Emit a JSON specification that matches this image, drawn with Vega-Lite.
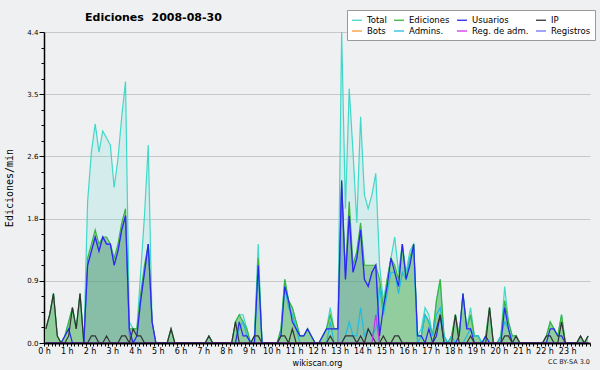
{
"$schema":"https://vega.github.io/schema/vega-lite/v6.json",
"width":546,"height":311,
"autosize":{"type":"none"},
"padding":{"left":44,"top":32,"right":10,"bottom":27},
"background":"#eff0f2",
"config":{"view":{"stroke":null},"font":"DejaVu Sans",
 "legend":{"orient":"none","legendX":303,"legendY":-22,"columns":4,"title":null,"symbolType":"stroke","symbolSize":100,"symbolStrokeWidth":1.3,"symbolOpacity":1,"labelOpacity":1,"labelFontSize":8.5,"labelFont":"DejaVu Sans","labelColor":"#000000","fillColor":"#ffffff","strokeColor":"#999999","padding":4,"gridAlign":"each","columnPadding":4,"rowPadding":0,"labelOffset":4,"zindex":5}},
"title":{"text":"Ediciones \u00a02008-08-30","anchor":"start","frame":"group","dx":41,"dy":13,"offset":0,"fontSize":11,"fontWeight":"bold","font":"DejaVu Sans","color":"#000000"},
"data":{"values":[
{"t":5,"tot":0.2,"edi":0.2,"usu":0,"ip":0.2,"adm":0,"rad":0,"reg":0},
{"t":15,"tot":0.4,"edi":0.4,"usu":0,"ip":0.4,"adm":0,"rad":0,"reg":0},
{"t":25,"tot":0.7,"edi":0.7,"usu":0,"ip":0.7,"adm":0,"rad":0,"reg":0},
{"t":35,"tot":0.1,"edi":0.1,"usu":0,"ip":0.1,"adm":0,"rad":0,"reg":0},
{"t":45,"tot":0,"edi":0,"usu":0,"ip":0,"adm":0,"rad":0,"reg":0},
{"t":55,"tot":0.1,"edi":0.1,"usu":0.1,"ip":0,"adm":0,"rad":0,"reg":0},
{"t":65,"tot":0.3,"edi":0.3,"usu":0.2,"ip":0.1,"adm":0,"rad":0,"reg":0},
{"t":75,"tot":0.5,"edi":0.5,"usu":0,"ip":0.5,"adm":0,"rad":0,"reg":0},
{"t":85,"tot":0.2,"edi":0.2,"usu":0,"ip":0.2,"adm":0,"rad":0,"reg":0},
{"t":95,"tot":0.7,"edi":0.7,"usu":0,"ip":0.7,"adm":0,"rad":0,"reg":0},
{"t":105,"tot":0,"edi":0,"usu":0,"ip":0,"adm":0,"rad":0,"reg":0},
{"t":115,"tot":2.0,"edi":1.2,"usu":1.1,"ip":0,"adm":0,"rad":0,"reg":1.1},
{"t":125,"tot":2.7,"edi":1.4,"usu":1.3,"ip":0.1,"adm":0,"rad":0,"reg":1.3},
{"t":135,"tot":3.1,"edi":1.6,"usu":1.5,"ip":0.1,"adm":0,"rad":0,"reg":1.5},
{"t":145,"tot":2.7,"edi":1.4,"usu":1.3,"ip":0,"adm":0,"rad":0,"reg":1.3},
{"t":155,"tot":3.0,"edi":1.5,"usu":1.5,"ip":0,"adm":0,"rad":0,"reg":1.5},
{"t":165,"tot":2.9,"edi":1.5,"usu":1.4,"ip":0.1,"adm":0,"rad":0,"reg":1.4},
{"t":175,"tot":2.8,"edi":1.4,"usu":1.4,"ip":0,"adm":0,"rad":0,"reg":1.4},
{"t":185,"tot":2.2,"edi":1.2,"usu":1.1,"ip":0,"adm":0,"rad":0,"reg":1.1},
{"t":195,"tot":2.6,"edi":1.4,"usu":1.3,"ip":0,"adm":0,"rad":0,"reg":1.3},
{"t":205,"tot":3.2,"edi":1.7,"usu":1.6,"ip":0.1,"adm":0,"rad":0,"reg":1.6},
{"t":215,"tot":3.7,"edi":1.9,"usu":1.8,"ip":0.1,"adm":0,"rad":0,"reg":1.8},
{"t":225,"tot":0.3,"edi":0.2,"usu":0.2,"ip":0,"adm":0,"rad":0,"reg":0.1},
{"t":235,"tot":0.2,"edi":0.2,"usu":0,"ip":0.2,"adm":0,"rad":0,"reg":0},
{"t":245,"tot":0.2,"edi":0.2,"usu":0.1,"ip":0.1,"adm":0,"rad":0,"reg":0.1},
{"t":255,"tot":1.0,"edi":0.7,"usu":0.6,"ip":0.1,"adm":0,"rad":0,"reg":0.6},
{"t":265,"tot":1.8,"edi":1.1,"usu":1.0,"ip":0,"adm":0,"rad":0,"reg":1.0},
{"t":275,"tot":2.8,"edi":1.4,"usu":1.4,"ip":0,"adm":0,"rad":0,"reg":1.4},
{"t":285,"tot":0.3,"edi":0.3,"usu":0.3,"ip":0,"adm":0,"rad":0,"reg":0.3},
{"t":295,"tot":0,"edi":0,"usu":0,"ip":0,"adm":0,"rad":0,"reg":0},
{"t":305,"tot":0,"edi":0,"usu":0,"ip":0,"adm":0,"rad":0,"reg":0},
{"t":315,"tot":0,"edi":0,"usu":0,"ip":0,"adm":0,"rad":0,"reg":0},
{"t":325,"tot":0,"edi":0,"usu":0,"ip":0,"adm":0,"rad":0,"reg":0},
{"t":335,"tot":0.2,"edi":0.2,"usu":0,"ip":0.2,"adm":0,"rad":0,"reg":0},
{"t":345,"tot":0,"edi":0,"usu":0,"ip":0,"adm":0,"rad":0,"reg":0},
{"t":355,"tot":0,"edi":0,"usu":0,"ip":0,"adm":0,"rad":0,"reg":0},
{"t":365,"tot":0,"edi":0,"usu":0,"ip":0,"adm":0,"rad":0,"reg":0},
{"t":375,"tot":0,"edi":0,"usu":0,"ip":0,"adm":0,"rad":0,"reg":0},
{"t":385,"tot":0,"edi":0,"usu":0,"ip":0,"adm":0,"rad":0,"reg":0},
{"t":395,"tot":0,"edi":0,"usu":0,"ip":0,"adm":0,"rad":0,"reg":0},
{"t":405,"tot":0,"edi":0,"usu":0,"ip":0,"adm":0,"rad":0,"reg":0},
{"t":415,"tot":0,"edi":0,"usu":0,"ip":0,"adm":0,"rad":0,"reg":0},
{"t":425,"tot":0,"edi":0,"usu":0,"ip":0,"adm":0,"rad":0,"reg":0},
{"t":435,"tot":0.1,"edi":0.1,"usu":0,"ip":0.1,"adm":0,"rad":0,"reg":0},
{"t":445,"tot":0,"edi":0,"usu":0,"ip":0,"adm":0,"rad":0,"reg":0},
{"t":455,"tot":0,"edi":0,"usu":0,"ip":0,"adm":0,"rad":0,"reg":0},
{"t":465,"tot":0,"edi":0,"usu":0,"ip":0,"adm":0,"rad":0,"reg":0},
{"t":475,"tot":0,"edi":0,"usu":0,"ip":0,"adm":0,"rad":0,"reg":0},
{"t":485,"tot":0,"edi":0,"usu":0,"ip":0,"adm":0,"rad":0,"reg":0},
{"t":495,"tot":0,"edi":0,"usu":0,"ip":0,"adm":0,"rad":0,"reg":0},
{"t":505,"tot":0.3,"edi":0.3,"usu":0,"ip":0.3,"adm":0,"rad":0,"reg":0},
{"t":515,"tot":0.4,"edi":0.4,"usu":0.3,"ip":0,"adm":0.2,"rad":0,"reg":0},
{"t":525,"tot":0.4,"edi":0.3,"usu":0.1,"ip":0,"adm":0.3,"rad":0,"reg":0},
{"t":535,"tot":0.2,"edi":0.2,"usu":0.1,"ip":0,"adm":0.1,"rad":0,"reg":0},
{"t":545,"tot":0,"edi":0,"usu":0,"ip":0,"adm":0,"rad":0,"reg":0},
{"t":555,"tot":0.1,"edi":0.1,"usu":0,"ip":0.1,"adm":0,"rad":0,"reg":0},
{"t":565,"tot":1.4,"edi":1.2,"usu":1.1,"ip":0.1,"adm":1.1,"rad":0,"reg":0},
{"t":575,"tot":0,"edi":0,"usu":0,"ip":0,"adm":0,"rad":0,"reg":0},
{"t":585,"tot":0,"edi":0,"usu":0,"ip":0,"adm":0,"rad":0,"reg":0},
{"t":595,"tot":0,"edi":0,"usu":0,"ip":0,"adm":0,"rad":0,"reg":0},
{"t":605,"tot":0,"edi":0,"usu":0,"ip":0,"adm":0,"rad":0,"reg":0},
{"t":615,"tot":0,"edi":0,"usu":0,"ip":0,"adm":0,"rad":0,"reg":0},
{"t":625,"tot":0.2,"edi":0.2,"usu":0.1,"ip":0.1,"adm":0.1,"rad":0,"reg":0},
{"t":635,"tot":0.9,"edi":0.9,"usu":0.8,"ip":0.1,"adm":0.8,"rad":0,"reg":0},
{"t":645,"tot":0.6,"edi":0.6,"usu":0.6,"ip":0,"adm":0.5,"rad":0,"reg":0},
{"t":655,"tot":0.5,"edi":0.5,"usu":0.3,"ip":0.2,"adm":0.4,"rad":0,"reg":0},
{"t":665,"tot":0.3,"edi":0.3,"usu":0.2,"ip":0,"adm":0.2,"rad":0,"reg":0},
{"t":675,"tot":0.1,"edi":0.1,"usu":0.1,"ip":0,"adm":0,"rad":0,"reg":0},
{"t":685,"tot":0.1,"edi":0.1,"usu":0.1,"ip":0,"adm":0,"rad":0,"reg":0},
{"t":695,"tot":0.2,"edi":0.2,"usu":0.2,"ip":0,"adm":0,"rad":0,"reg":0},
{"t":705,"tot":0.1,"edi":0.1,"usu":0.1,"ip":0,"adm":0,"rad":0,"reg":0},
{"t":715,"tot":0,"edi":0,"usu":0,"ip":0,"adm":0,"rad":0,"reg":0},
{"t":725,"tot":0,"edi":0,"usu":0,"ip":0,"adm":0,"rad":0,"reg":0},
{"t":735,"tot":0.1,"edi":0.1,"usu":0.1,"ip":0,"adm":0,"rad":0,"reg":0},
{"t":745,"tot":0.2,"edi":0.2,"usu":0.2,"ip":0,"adm":0,"rad":0,"reg":0},
{"t":755,"tot":0.5,"edi":0.4,"usu":0.2,"ip":0.1,"adm":0.3,"rad":0,"reg":0},
{"t":765,"tot":0.2,"edi":0.2,"usu":0.2,"ip":0,"adm":0,"rad":0,"reg":0},
{"t":775,"tot":0.2,"edi":0.2,"usu":0.2,"ip":0,"adm":0,"rad":0,"reg":0},
{"t":785,"tot":4.4,"edi":2.3,"usu":2.3,"ip":0,"adm":0,"rad":0,"reg":2.2},
{"t":795,"tot":1.9,"edi":1.0,"usu":0.9,"ip":0.1,"adm":0.1,"rad":0,"reg":0.9},
{"t":805,"tot":3.6,"edi":2.0,"usu":1.8,"ip":0.1,"adm":0.3,"rad":0,"reg":1.8},
{"t":815,"tot":2.7,"edi":1.1,"usu":1.0,"ip":0.1,"adm":0.1,"rad":0,"reg":1.0},
{"t":825,"tot":1.7,"edi":1.3,"usu":1.2,"ip":0,"adm":0.1,"rad":0,"reg":1.2},
{"t":835,"tot":3.2,"edi":1.7,"usu":1.6,"ip":0.1,"adm":0.5,"rad":0,"reg":1.6},
{"t":845,"tot":2.1,"edi":1.1,"usu":0.9,"ip":0,"adm":0.1,"rad":0,"reg":0.9},
{"t":855,"tot":1.9,"edi":1.1,"usu":0.8,"ip":0.2,"adm":0.2,"rad":0,"reg":0.8},
{"t":865,"tot":2.1,"edi":1.1,"usu":1.0,"ip":0.1,"adm":0.1,"rad":0,"reg":1.0},
{"t":875,"tot":2.4,"edi":1.1,"usu":1.1,"ip":0,"adm":0.2,"rad":0.4,"reg":1.1},
{"t":885,"tot":1.1,"edi":0.9,"usu":0.1,"ip":0,"adm":0.8,"rad":0,"reg":0},
{"t":895,"tot":0.6,"edi":0.5,"usu":0.5,"ip":0.1,"adm":0.4,"rad":0,"reg":0},
{"t":905,"tot":0.9,"edi":0.9,"usu":0.8,"ip":0,"adm":0.7,"rad":0,"reg":0},
{"t":915,"tot":1.2,"edi":1.2,"usu":1.2,"ip":0,"adm":1.0,"rad":0,"reg":0},
{"t":925,"tot":1.5,"edi":1.1,"usu":1.0,"ip":0.1,"adm":1.0,"rad":0,"reg":0},
{"t":935,"tot":1.0,"edi":0.9,"usu":0.8,"ip":0.1,"adm":0.7,"rad":0,"reg":0},
{"t":945,"tot":1.4,"edi":1.4,"usu":1.4,"ip":0,"adm":1.0,"rad":0,"reg":0},
{"t":955,"tot":1.0,"edi":0.9,"usu":0.9,"ip":0,"adm":0.9,"rad":0,"reg":0},
{"t":965,"tot":1.3,"edi":1.2,"usu":1.1,"ip":0,"adm":1.2,"rad":0,"reg":0},
{"t":975,"tot":1.4,"edi":1.4,"usu":1.4,"ip":0,"adm":1.3,"rad":0,"reg":0},
{"t":985,"tot":0.1,"edi":0.1,"usu":0.1,"ip":0,"adm":0,"rad":0,"reg":0},
{"t":995,"tot":0.2,"edi":0.1,"usu":0.1,"ip":0,"adm":0.1,"rad":0,"reg":0},
{"t":1005,"tot":0.5,"edi":0.4,"usu":0,"ip":0,"adm":0.4,"rad":0,"reg":0},
{"t":1015,"tot":0.4,"edi":0.3,"usu":0.2,"ip":0,"adm":0.3,"rad":0,"reg":0},
{"t":1025,"tot":0.1,"edi":0.1,"usu":0,"ip":0,"adm":0.1,"rad":0,"reg":0},
{"t":1035,"tot":0.6,"edi":0.6,"usu":0.1,"ip":0.2,"adm":0.4,"rad":0,"reg":0},
{"t":1045,"tot":0.9,"edi":0.9,"usu":0.4,"ip":0.4,"adm":0.5,"rad":0,"reg":0},
{"t":1055,"tot":0.1,"edi":0.1,"usu":0,"ip":0,"adm":0.1,"rad":0,"reg":0},
{"t":1065,"tot":0,"edi":0,"usu":0,"ip":0,"adm":0,"rad":0,"reg":0},
{"t":1075,"tot":0.1,"edi":0.1,"usu":0,"ip":0,"adm":0.1,"rad":0,"reg":0},
{"t":1085,"tot":0.4,"edi":0.4,"usu":0,"ip":0.4,"adm":0,"rad":0,"reg":0},
{"t":1095,"tot":0.1,"edi":0.1,"usu":0.1,"ip":0,"adm":0,"rad":0,"reg":0},
{"t":1105,"tot":0.7,"edi":0.7,"usu":0.7,"ip":0,"adm":0,"rad":0,"reg":0},
{"t":1115,"tot":0.2,"edi":0.2,"usu":0.2,"ip":0,"adm":0.1,"rad":0,"reg":0},
{"t":1125,"tot":0.5,"edi":0.4,"usu":0.2,"ip":0.1,"adm":0.2,"rad":0,"reg":0},
{"t":1135,"tot":0.1,"edi":0.1,"usu":0,"ip":0,"adm":0.1,"rad":0,"reg":0},
{"t":1145,"tot":0.1,"edi":0.1,"usu":0,"ip":0,"adm":0.1,"rad":0,"reg":0},
{"t":1155,"tot":0,"edi":0,"usu":0,"ip":0,"adm":0,"rad":0,"reg":0},
{"t":1165,"tot":0.1,"edi":0.1,"usu":0.1,"ip":0,"adm":0.1,"rad":0,"reg":0},
{"t":1175,"tot":0.5,"edi":0.5,"usu":0,"ip":0.5,"adm":0,"rad":0,"reg":0},
{"t":1185,"tot":0,"edi":0,"usu":0,"ip":0,"adm":0,"rad":0,"reg":0},
{"t":1195,"tot":0,"edi":0,"usu":0,"ip":0,"adm":0,"rad":0,"reg":0},
{"t":1205,"tot":0.1,"edi":0.1,"usu":0,"ip":0,"adm":0.1,"rad":0,"reg":0},
{"t":1215,"tot":0.8,"edi":0.6,"usu":0.5,"ip":0.1,"adm":0.3,"rad":0,"reg":0},
{"t":1225,"tot":0.3,"edi":0.3,"usu":0.2,"ip":0.1,"adm":0.2,"rad":0,"reg":0},
{"t":1235,"tot":0.1,"edi":0.1,"usu":0,"ip":0,"adm":0,"rad":0,"reg":0},
{"t":1245,"tot":0.1,"edi":0.1,"usu":0,"ip":0.1,"adm":0,"rad":0,"reg":0},
{"t":1255,"tot":0,"edi":0,"usu":0,"ip":0,"adm":0,"rad":0,"reg":0},
{"t":1265,"tot":0,"edi":0,"usu":0,"ip":0,"adm":0,"rad":0,"reg":0},
{"t":1275,"tot":0,"edi":0,"usu":0,"ip":0,"adm":0,"rad":0,"reg":0},
{"t":1285,"tot":0,"edi":0,"usu":0,"ip":0,"adm":0,"rad":0,"reg":0},
{"t":1295,"tot":0,"edi":0,"usu":0,"ip":0,"adm":0,"rad":0,"reg":0},
{"t":1305,"tot":0,"edi":0,"usu":0,"ip":0,"adm":0,"rad":0,"reg":0},
{"t":1315,"tot":0,"edi":0,"usu":0,"ip":0,"adm":0,"rad":0,"reg":0},
{"t":1325,"tot":0.1,"edi":0.1,"usu":0,"ip":0.1,"adm":0,"rad":0,"reg":0},
{"t":1335,"tot":0.3,"edi":0.3,"usu":0.2,"ip":0.1,"adm":0,"rad":0,"reg":0},
{"t":1345,"tot":0.2,"edi":0.2,"usu":0.2,"ip":0,"adm":0,"rad":0,"reg":0},
{"t":1355,"tot":0.1,"edi":0.1,"usu":0.1,"ip":0,"adm":0,"rad":0,"reg":0},
{"t":1365,"tot":0.4,"edi":0.4,"usu":0.1,"ip":0.3,"adm":0,"rad":0,"reg":0},
{"t":1375,"tot":0,"edi":0,"usu":0,"ip":0,"adm":0,"rad":0,"reg":0},
{"t":1385,"tot":0,"edi":0,"usu":0,"ip":0,"adm":0,"rad":0,"reg":0},
{"t":1395,"tot":0,"edi":0,"usu":0,"ip":0,"adm":0,"rad":0,"reg":0},
{"t":1405,"tot":0,"edi":0,"usu":0,"ip":0,"adm":0,"rad":0,"reg":0},
{"t":1415,"tot":0.1,"edi":0.1,"usu":0,"ip":0.1,"adm":0,"rad":0,"reg":0},
{"t":1425,"tot":0,"edi":0,"usu":0,"ip":0,"adm":0,"rad":0,"reg":0},
{"t":1435,"tot":0.1,"edi":0.1,"usu":0,"ip":0.1,"adm":0,"rad":0,"reg":0}
]},
"encoding":{
 "x":{"field":"t","type":"quantitative","scale":{"domain":[0,1440],"nice":false,"zero":false},
  "axis":{"tickCount":144,"labelExpr":"datum.value % 60 === 0 && datum.value < 1440 ? (datum.value/60) + ' h' : ''","labelOverlap":false,"labelFlush":false,"labelFontSize":8,"labelFont":"DejaVu Sans","labelColor":"#000000","labelPadding":1,"tickSize":3,"tickColor":"#000000","domainColor":"#000000","domainWidth":2,"grid":false,"zindex":1,"title":"wikiscan.org","titleFontSize":8,"titleFontWeight":"normal","titleFont":"DejaVu Sans","titleColor":"#000000","titlePadding":4}},
 "y":{"field":"v","type":"quantitative","scale":{"domain":[0,4.4],"nice":false},
  "axis":{"values":[0,0.22,0.44,0.66,0.88,1.1,1.32,1.54,1.76,1.98,2.2,2.42,2.64,2.86,3.08,3.3,3.52,3.74,3.96,4.18,4.4],
   "labelExpr":"abs(datum.value/0.88-round(datum.value/0.88))<0.01 ? format(datum.value,'.1f') : ''",
   "labelFontSize":7,"labelFont":"DejaVu Sans","labelColor":"#000000","labelPadding":1,
   "tickSize":{"condition":{"test":"abs(datum.value/0.88-round(datum.value/0.88))<0.01","value":5},"value":3},
   "tickColor":"#000000","domainColor":"#000000","domainWidth":1.5,
   "grid":true,"gridColor":"#c8c8c8","gridOpacity":{"condition":{"test":"abs(datum.value/0.88-round(datum.value/0.88))<0.01 && datum.value>0","value":1},"value":0},
   "zindex":0,"title":"Ediciones/min","titleFont":"DejaVu Sans Mono","titleFontSize":10,"titleFontWeight":"normal","titleColor":"#000000","titlePadding":12}}
},
"layer":[
 {"transform":[{"fold":["tot"],"as":["key","v"]}],"mark":{"type":"area","fill":"#40d8c8","fillOpacity":0.15}},
 {"transform":[{"fold":["edi"],"as":["key","v"]}],"mark":{"type":"area","fill":"#44aa44","fillOpacity":0.47}},
 {"transform":[{"fold":["reg"],"as":["key","v"]}],"mark":{"type":"area","fill":"#4848ff","fillOpacity":0.12}},
 {"transform":[{"fold":["tot"],"as":["key","v"]}],"mark":{"type":"line","strokeWidth":1.2},
  "encoding":{"color":{"field":"key","type":"nominal",
   "scale":{"domain":["tot","bot","edi","adm","usu","rad","ip","reg"],"range":["#40d8c8","#ff9933","#3cb43c","#22bce0","#2828f0","#cc33ee","#333333","#7070ff"]},
   "legend":{"labelExpr":"datum.label==='tot'?'Total':datum.label==='edi'?'Ediciones':datum.label==='usu'?'Usuarios':datum.label==='ip'?'IP':datum.label==='bot'?'Bots':datum.label==='adm'?'Admins.':datum.label==='rad'?'Reg. de adm.':'Registros'"}}}},
 {"transform":[{"fold":["edi"],"as":["key","v"]}],"mark":{"type":"line","strokeWidth":1.2},"encoding":{"color":{"field":"key","type":"nominal"}}},
 {"transform":[{"fold":["reg"],"as":["key","v"]}],"mark":{"type":"line","strokeWidth":1.2},"encoding":{"color":{"field":"key","type":"nominal"}}},
 {"transform":[{"fold":["adm"],"as":["key","v"]}],"mark":{"type":"line","strokeWidth":1.2},"encoding":{"color":{"field":"key","type":"nominal"}}},
 {"transform":[{"fold":["usu"],"as":["key","v"]}],"mark":{"type":"line","strokeWidth":1.2},"encoding":{"color":{"field":"key","type":"nominal"}}},
 {"transform":[{"fold":["ip"],"as":["key","v"]}],"mark":{"type":"line","strokeWidth":1.2},"encoding":{"color":{"field":"key","type":"nominal"}}},
 {"transform":[{"fold":["rad"],"as":["key","v"]}],"mark":{"type":"line","strokeWidth":1.2},"encoding":{"color":{"field":"key","type":"nominal"}}},
 {"data":{"values":[{"txt":"CC BY-SA 3.0","tx":1440,"ty":-0.27}]},"mark":{"type":"text","align":"right","baseline":"middle","fontSize":6.5,"font":"DejaVu Sans","color":"#222222","clip":false},
  "encoding":{"x":{"field":"tx","type":"quantitative"},"y":{"field":"ty","type":"quantitative"},"text":{"field":"txt","type":"nominal"}}}
]
}
